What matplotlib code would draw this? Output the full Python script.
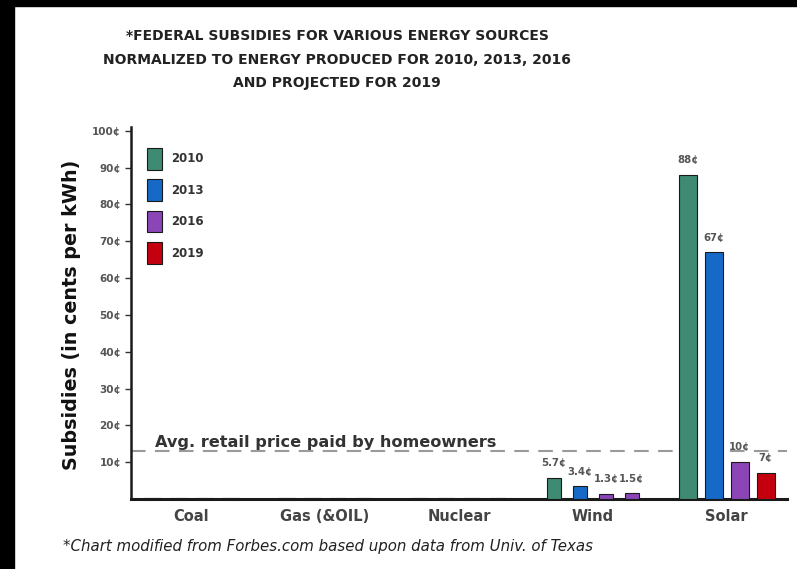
import matplotlib
matplotlib.use("Agg")
import matplotlib.pyplot as plt
from matplotlib.patches import Rectangle
import numpy as np

# ---- data ----
categories = ["Coal", "Gas (&OIL)", "Nuclear", "Wind", "Solar"]
years = ["2010", "2013", "2016", "2019"]
vals_2010 = [0.3, 0.3, 0.3, 5.7, 88]
vals_2013 = [0.3, 0.3, 0.3, 3.4, 67]
vals_2016 = [0.3, 0.3, 0.3, 1.3, 10]
vals_2019 = [0.3, 0.3, 0.3, 1.5, 7]
series = [vals_2010, vals_2013, vals_2016, vals_2019]
value_labels = {
    (3, 0): "5.7¢", (3, 1): "3.4¢", (3, 2): "1.3¢", (3, 3): "1.5¢",
    (4, 0): "88¢", (4, 1): "67¢", (4, 2): "10¢", (4, 3): "7¢",
}
avg_retail_price = 13.1
yticks = [10, 20, 30, 40, 50, 60, 70, 80, 90, 100]
ytick_labels = [f"{v}¢" for v in yticks]

# ---- style ----
colors = ["#3f8a72", "#1769c8", "#8b45b7", "#c4000f"]
color_override = {(3, 3): "#8b45b7"}  # wind 2019 drawn purple in original
widths = [0.125, 0.125, 0.125, 0.105, 0.132]
offset = 0.194

W, H = 797, 569
fig = plt.figure(figsize=(W / 100, H / 100), dpi=100)
fig.patch.set_facecolor("white")
ax = fig.add_axes([131 / W, 1 - 499 / H, (787 - 131) / W, (499 - 127) / H])

x = np.arange(len(categories))
for si, vals in enumerate(series):
    for ci, v in enumerate(vals):
        c = color_override.get((ci, si), colors[si])
        xpos = x[ci] + (si - 1.5) * offset
        ax.bar(xpos, v, width=widths[ci], color=c, edgecolor="#1a1a1a",
               linewidth=0.8, zorder=3, label=years[si] if ci == 0 else None)
        lab = value_labels.get((ci, si))
        if lab:
            ax.annotate(lab, (xpos, v), xytext=(0, 7), textcoords="offset points",
                        ha="center", va="bottom", fontsize=7.3, fontweight="bold",
                        color="#555555")

ax.set_xlim(-0.45, 4.45)
ax.set_ylim(0, 101)
ax.set_xticks(x)
ax.set_xticklabels(categories, fontsize=10.5, fontweight="bold", color="#444444")
ax.set_yticks(yticks)
ax.set_yticklabels(ytick_labels, fontsize=7.5, fontweight="bold", color="#555555")
ax.tick_params(axis="x", length=0, pad=7)
ax.tick_params(axis="y", length=4, width=1, direction="out", color="#333333", pad=3)
for s in ["top", "right"]:
    ax.spines[s].set_visible(False)
ax.spines["left"].set_linewidth(1.8)
ax.spines["bottom"].set_linewidth(2.2)
ax.spines["left"].set_color("#1a1a1a")
ax.spines["bottom"].set_color("#1a1a1a")

ax.axhline(avg_retail_price, color="#9a9a9a", lw=1.5, ls=(0, (7, 4.5)), zorder=2,
           clip_on=False)
ax.text(-0.27, 15.3, "Avg. retail price paid by homeowners", fontsize=11.6,
        fontweight="bold", color="#333333", ha="left", va="center")

leg = ax.legend(loc="upper left", bbox_to_anchor=(147 / W, 1 - 148 / H),
                bbox_transform=fig.transFigure, frameon=False, fontsize=8.5,
                handlelength=1.3, handleheight=2.43, labelspacing=0.84,
                handletextpad=0.75, borderpad=0, borderaxespad=0)
for t in leg.get_texts():
    t.set_fontweight("bold")
    t.set_color("#333333")

# titles
tx = 337 / W
fig.text(tx, 1 - 36 / H, "*FEDERAL SUBSIDIES FOR VARIOUS ENERGY SOURCES",
         ha="center", va="center", fontsize=10, fontweight="bold", color="#222222")
fig.text(tx, 1 - 60 / H, "NORMALIZED TO ENERGY PRODUCED FOR 2010, 2013, 2016",
         ha="center", va="center", fontsize=10, fontweight="bold", color="#222222")
fig.text(tx, 1 - 83 / H, "AND PROJECTED FOR 2019",
         ha="center", va="center", fontsize=10, fontweight="bold", color="#222222")

fig.text(72 / W, 1 - 315 / H, "Subsidies (in cents per kWh)", rotation=90,
         ha="center", va="center", fontsize=13.8, fontweight="bold", color="#111111")

fig.text(63 / W, 1 - 547 / H,
         "*Chart modified from Forbes.com based upon data from Univ. of Texas",
         ha="left", va="center", fontsize=10.8, style="italic", color="#222222")

# black frame bands
fig.add_artist(Rectangle((0, 0), 14 / W, 1, transform=fig.transFigure,
                         color="black", zorder=10))
fig.add_artist(Rectangle((0, 1 - 6 / H), 1, 6 / H, transform=fig.transFigure,
                         color="black", zorder=10))

fig.savefig("out.png", dpi=100)
